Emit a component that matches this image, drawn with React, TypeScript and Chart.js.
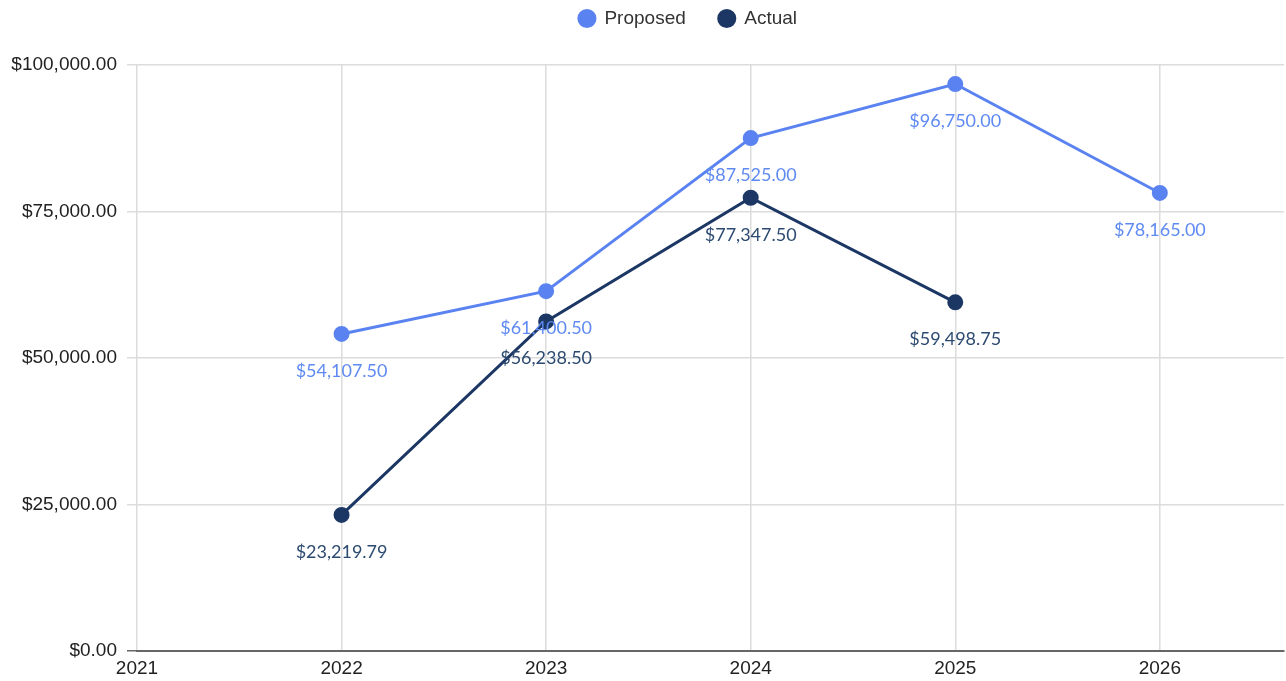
import React, { useEffect, useRef } from "react";
import { Chart, registerables } from "chart.js";

Chart.register(...registerables);

const years = [2022, 2023, 2024, 2025, 2026];
const proposed = [54107.5, 61400.5, 87525.0, 96750.0, 78165.0];
const actualYears = [2022, 2023, 2024, 2025];
const actual = [23219.79, 56238.5, 77347.5, 59498.75];
const yTicks = [0, 25000, 50000, 75000, 100000];

const fmtMoney = (v: number) =>
  "$" + v.toLocaleString("en-US", { minimumFractionDigits: 2, maximumFractionDigits: 2 });

const labelPlugin = {
  id: "pointLabels",
  afterDatasetsDraw(chart: any) {
    const ctx = chart.ctx;
    chart.data.datasets.forEach((ds: any, i: number) => {
      const meta = chart.getDatasetMeta(i);
      ctx.save();
      ctx.font = "18px Lato";
      ctx.fillStyle = ds.labelColor;
      ctx.textAlign = "center";
      ctx.textBaseline = "middle";
      meta.data.forEach((pt: any, j: number) => {
        const v = ds.data[j].y;
        ctx.fillText(fmtMoney(v), pt.x, pt.y + 37);
      });
      ctx.restore();
    });
  },
};

const legendMargin = {
  id: "legendMargin",
  beforeInit(chart: any) {
    const lg = chart.legend;
    if (!lg) return;
    const fit = lg.fit;
    lg.fit = function () {
      fit.call(lg);
      lg.height = 65;
    };
  },
  afterLayout(chart: any) {
    const lg = chart.legend;
    if (!lg) return;
    lg.top = -24;
    lg.left = 45;
    lg.right = chart.width + 45;
  },
};

export default function App() {
  const ref = useRef<HTMLCanvasElement>(null);
  useEffect(() => {
    document.body.style.margin = "0";
    const chart = new Chart(ref.current!, {
      type: "line",
      data: {
        datasets: [
          {
            label: "Proposed",
            data: years.map((x, i) => ({ x, y: proposed[i] })),
            borderColor: "#5a83f1",
            backgroundColor: "#5a83f1",
            borderWidth: 3,
            pointRadius: 6.5,
            pointHoverRadius: 6.5,
            labelColor: "#5f8af2",
          } as any,
          {
            label: "Actual",
            data: actualYears.map((x, i) => ({ x, y: actual[i] })),
            borderColor: "#1c3764",
            backgroundColor: "#1c3764",
            borderWidth: 3,
            pointRadius: 6.5,
            pointHoverRadius: 6.5,
            labelColor: "#2c4a70",
          } as any,
        ],
      },
      plugins: [labelPlugin, legendMargin],
      options: {
        animation: false,
        responsive: false,
        layout: { autoPadding: false, padding: { top: 0, right: 2, left: 0, bottom: 0 } },
        plugins: {
          tooltip: { enabled: false },
          legend: {
            position: "top",
            labels: {
              usePointStyle: true,
              pointStyle: "circle",
              boxWidth: 16,
              boxHeight: 11.4,
              padding: 33,
              color: "#333333",
              font: { family: "Liberation Sans", size: 19 },
            },
          },
        },
        scales: {
          x: {
            type: "linear",
            min: 2021,
            max: 2026.607,
            afterFit: (s: any) => {
              s.height = 30;
              s.paddingRight = 0;
              s.paddingLeft = 0;
            },
            ticks: {
              stepSize: 1,
              includeBounds: false,
              autoSkip: false,
              maxRotation: 0,
              padding: 6,
              color: "#222222",
              font: { family: "Liberation Sans", size: 19 },
              callback: (v: any) => String(v),
            },
            grid: { color: "#dcdcdc", lineWidth: 1.5, drawTicks: false },
            border: { display: true, color: "#666666", width: 2 },
          },
          y: {
            type: "linear",
            min: 0,
            max: 100000,
            afterFit: (s: any) => {
              s.width = 137;
            },
            afterBuildTicks: (s: any) => {
              s.ticks = yTicks.map((v) => ({ value: v }));
            },
            ticks: {
              padding: 10,
              color: "#222222",
              font: { family: "Liberation Sans", size: 19 },
              callback: (v: any) => fmtMoney(Number(v)),
            },
            grid: {
              color: (c: any) => (c.index === 0 ? "#666666" : "#dcdcdc"),
              lineWidth: 1.5,
              tickLength: 10,
            },
            border: { display: false },
          },
        },
      },
    });
    return () => chart.destroy();
  }, []);
  return (
    <div style={{ position: "absolute", left: 0, top: 0, width: 1286, height: 681 }}>
      <canvas ref={ref} width={1286} height={681} />
    </div>
  );
}
